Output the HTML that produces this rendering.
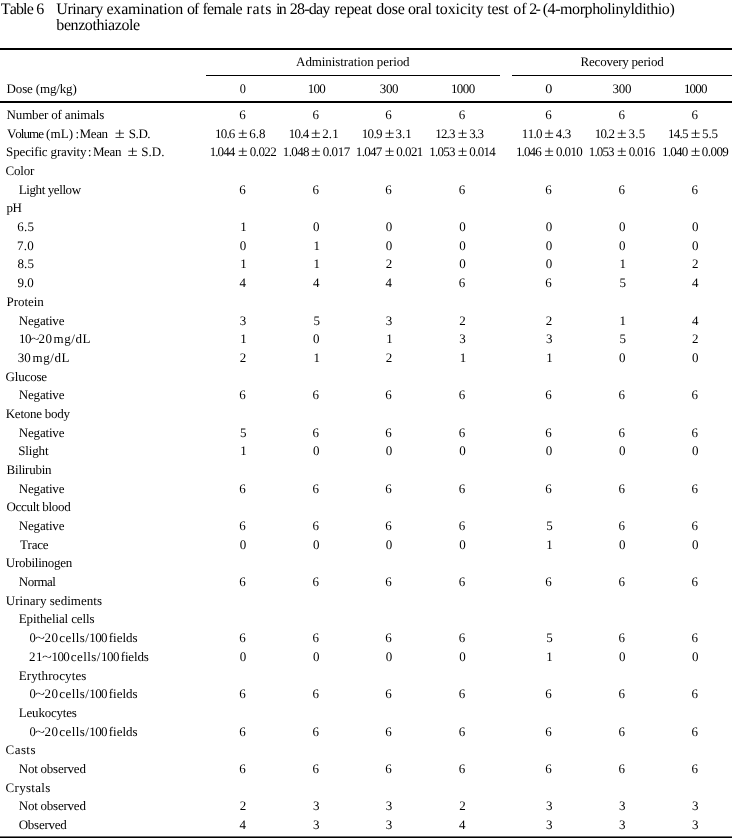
<!DOCTYPE html>
<html><head><meta charset="utf-8"><title>Table 6</title>
<style>
html,body{margin:0;padding:0;background:#fff;}
body{width:732px;height:839px;overflow:hidden;}
svg{display:block;will-change:transform;}
text{font-family:"Liberation Serif",serif;fill:#000;text-rendering:geometricPrecision;font-kerning:none;font-variant-ligatures:none;}
</style></head><body>
<svg width="732" height="839" viewBox="0 0 732 839">
<rect x="0" y="0" width="732" height="839" fill="#fff"/>
<rect x="0" y="48" width="732" height="2" fill="#000"/>
<rect x="206" y="75" width="294" height="1" fill="#000"/>
<rect x="512" y="75" width="220" height="1" fill="#000"/>
<rect x="0" y="101" width="732" height="2" fill="#000"/>
<rect x="0" y="836.45" width="732" height="1.55" fill="#000"/>
<text x="0.70" y="14.00" font-size="16.0" textLength="43.52">Table 6</text>
<text x="56.30" y="14.00" font-size="16.0" textLength="47.06">Urinary</text>
<text x="106.50" y="14.00" font-size="16.0" textLength="76.79">examination</text>
<text x="186.90" y="14.00" font-size="16.0" textLength="12.43">of</text>
<text x="202.50" y="14.00" font-size="16.0" textLength="40.02">female</text>
<text x="246.60" y="14.00" font-size="16.0" textLength="25.00">rats</text>
<text x="275.90" y="14.00" font-size="16.0" textLength="10.75">in</text>
<text x="289.80" y="14.00" font-size="16.0" textLength="40.43">28-day</text>
<text x="334.60" y="14.00" font-size="16.0" textLength="37.58">repeat</text>
<text x="376.20" y="14.00" font-size="16.0" textLength="28.63">dose</text>
<text x="407.90" y="14.00" font-size="16.0" textLength="23.98">oral</text>
<text x="435.40" y="14.00" font-size="16.0" textLength="48.18">toxicity</text>
<text x="487.20" y="14.00" font-size="16.0" textLength="21.42">test</text>
<text x="513.30" y="14.00" font-size="16.0" textLength="13.33">of</text>
<text x="529.20" y="14.00" font-size="16.0" textLength="11.63">2-</text>
<text x="542.70" y="14.00" font-size="16.0" textLength="132.03">(4-morpholinyldithio)</text>
<text x="56.30" y="30.00" font-size="16.0" textLength="83.84">benzothiazole</text>
<text x="296.10" y="66.20" font-size="13.0" textLength="113.48">Administration period</text>
<text x="580.60" y="66.20" font-size="13.0" textLength="83.07">Recovery period</text>
<text x="6.60" y="93.00" font-size="13.0" textLength="70.15">Dose (mg/kg)</text>
<text x="239.73" y="93.00" font-size="13.0" textLength="6.15" lengthAdjust="spacingAndGlyphs">0</text>
<text x="307.80" y="93.00" font-size="13.0" textLength="18.00">100</text>
<text x="379.70" y="93.00" font-size="13.0" textLength="18.90">300</text>
<text x="450.90" y="93.00" font-size="13.0" textLength="24.40">1000</text>
<text x="545.15" y="93.00" font-size="13.0" textLength="7.09" lengthAdjust="spacingAndGlyphs">0</text>
<text x="612.50" y="93.00" font-size="13.0" textLength="18.90">300</text>
<text x="683.90" y="93.00" font-size="13.0" textLength="23.50">1000</text>
<text x="6.60" y="119.00" font-size="13.0" textLength="97.66">Number of animals</text>
<text x="239.15" y="119.00" font-size="13.0">6</text>
<text x="312.45" y="119.00" font-size="13.0">6</text>
<text x="385.15" y="119.00" font-size="13.0">6</text>
<text x="458.65" y="119.00" font-size="13.0">6</text>
<text x="545.25" y="119.00" font-size="13.0">6</text>
<text x="618.45" y="119.00" font-size="13.0">6</text>
<text x="691.45" y="119.00" font-size="13.0">6</text>
<text x="6.90" y="137.68" font-size="13.0" textLength="37.08">Volume</text>
<text x="45.90" y="137.68" font-size="13.0" textLength="27.21">(mL)</text>
<text x="75.60" y="137.68" font-size="13.0" textLength="3.61" lengthAdjust="spacingAndGlyphs">:</text>
<text x="79.60" y="137.68" font-size="13.0" textLength="28.40">Mean</text>
<text x="114.65" y="137.68" font-size="14.5" textLength="9.98" lengthAdjust="spacingAndGlyphs">±</text>
<text x="128.70" y="137.68" font-size="13.0" textLength="21.92">S.D.</text>
<text x="215.00" y="137.68" font-size="13.0" textLength="20.35">10.6</text>
<text x="237.97" y="137.68" font-size="14.5" textLength="9.62" lengthAdjust="spacingAndGlyphs">±</text>
<text x="249.20" y="137.68" font-size="13.0" textLength="16.35">6.8</text>
<text x="288.70" y="137.68" font-size="13.0" textLength="20.55">10.4</text>
<text x="310.97" y="137.68" font-size="14.5" textLength="9.62" lengthAdjust="spacingAndGlyphs">±</text>
<text x="322.20" y="137.68" font-size="13.0" textLength="16.55">2.1</text>
<text x="361.70" y="137.68" font-size="13.0" textLength="20.85">10.9</text>
<text x="384.67" y="137.68" font-size="14.5" textLength="9.62" lengthAdjust="spacingAndGlyphs">±</text>
<text x="395.60" y="137.68" font-size="13.0" textLength="16.15">3.1</text>
<text x="435.20" y="137.68" font-size="13.0" textLength="20.35">12.3</text>
<text x="457.67" y="137.68" font-size="14.5" textLength="9.62" lengthAdjust="spacingAndGlyphs">±</text>
<text x="469.20" y="137.68" font-size="13.0" textLength="14.85">3.3</text>
<text x="521.80" y="137.68" font-size="13.0" textLength="20.75">11.0</text>
<text x="544.17" y="137.68" font-size="14.5" textLength="9.62" lengthAdjust="spacingAndGlyphs">±</text>
<text x="555.70" y="137.68" font-size="13.0" textLength="15.65">4.3</text>
<text x="594.70" y="137.68" font-size="13.0" textLength="20.35">10.2</text>
<text x="616.97" y="137.68" font-size="14.5" textLength="9.62" lengthAdjust="spacingAndGlyphs">±</text>
<text x="628.50" y="137.68" font-size="13.0" textLength="16.85">3.5</text>
<text x="667.90" y="137.68" font-size="13.0" textLength="20.65">14.5</text>
<text x="690.87" y="137.68" font-size="14.5" textLength="9.62" lengthAdjust="spacingAndGlyphs">±</text>
<text x="702.00" y="137.68" font-size="13.0" textLength="16.05">5.5</text>
<text x="6.10" y="156.37" font-size="13.0" textLength="80.37">Specific gravity</text>
<text x="87.84" y="156.37" font-size="13.0" textLength="3.84" lengthAdjust="spacingAndGlyphs">:</text>
<text x="92.90" y="156.37" font-size="13.0" textLength="28.50">Mean</text>
<text x="127.63" y="156.37" font-size="14.5" textLength="10.22" lengthAdjust="spacingAndGlyphs">±</text>
<text x="141.20" y="156.37" font-size="13.0" textLength="23.32">S.D.</text>
<text x="209.70" y="156.37" font-size="13.0" textLength="25.55">1.044</text>
<text x="237.97" y="156.37" font-size="14.5" textLength="9.62" lengthAdjust="spacingAndGlyphs">±</text>
<text x="249.80" y="156.37" font-size="13.0" textLength="26.95">0.022</text>
<text x="282.80" y="156.37" font-size="13.0" textLength="26.75">1.048</text>
<text x="310.97" y="156.37" font-size="14.5" textLength="9.62" lengthAdjust="spacingAndGlyphs">±</text>
<text x="322.80" y="156.37" font-size="13.0" textLength="27.35">0.017</text>
<text x="355.80" y="156.37" font-size="13.0" textLength="26.55">1.047</text>
<text x="384.67" y="156.37" font-size="14.5" textLength="9.62" lengthAdjust="spacingAndGlyphs">±</text>
<text x="396.20" y="156.37" font-size="13.0" textLength="27.15">0.021</text>
<text x="429.30" y="156.37" font-size="13.0" textLength="26.25">1.053</text>
<text x="457.67" y="156.37" font-size="14.5" textLength="9.62" lengthAdjust="spacingAndGlyphs">±</text>
<text x="469.30" y="156.37" font-size="13.0" textLength="26.55">0.014</text>
<text x="516.00" y="156.37" font-size="13.0" textLength="25.65">1.046</text>
<text x="544.17" y="156.37" font-size="14.5" textLength="9.62" lengthAdjust="spacingAndGlyphs">±</text>
<text x="556.00" y="156.37" font-size="13.0" textLength="26.75">0.010</text>
<text x="588.80" y="156.37" font-size="13.0" textLength="25.75">1.053</text>
<text x="616.97" y="156.37" font-size="14.5" textLength="9.62" lengthAdjust="spacingAndGlyphs">±</text>
<text x="628.80" y="156.37" font-size="13.0" textLength="26.35">0.016</text>
<text x="661.90" y="156.37" font-size="13.0" textLength="26.25">1.040</text>
<text x="690.87" y="156.37" font-size="14.5" textLength="9.62" lengthAdjust="spacingAndGlyphs">±</text>
<text x="701.80" y="156.37" font-size="13.0" textLength="27.05">0.009</text>
<text x="5.50" y="175.05" font-size="13.0" textLength="28.81">Color</text>
<text x="18.70" y="193.74" font-size="13.0" textLength="62.40">Light yellow</text>
<text x="239.15" y="193.74" font-size="13.0">6</text>
<text x="312.45" y="193.74" font-size="13.0">6</text>
<text x="385.15" y="193.74" font-size="13.0">6</text>
<text x="458.65" y="193.74" font-size="13.0">6</text>
<text x="545.25" y="193.74" font-size="13.0">6</text>
<text x="618.45" y="193.74" font-size="13.0">6</text>
<text x="691.45" y="193.74" font-size="13.0">6</text>
<text x="6.40" y="212.42" font-size="13.0" textLength="15.39">pH</text>
<text x="17.30" y="231.10" font-size="13.0" textLength="16.65">6.5</text>
<text x="240.20" y="231.10" font-size="13.0">1</text>
<text x="313.05" y="231.10" font-size="13.0">0</text>
<text x="385.75" y="231.10" font-size="13.0">0</text>
<text x="459.25" y="231.10" font-size="13.0">0</text>
<text x="545.85" y="231.10" font-size="13.0">0</text>
<text x="619.05" y="231.10" font-size="13.0">0</text>
<text x="692.05" y="231.10" font-size="13.0">0</text>
<text x="17.00" y="249.79" font-size="13.0" textLength="16.85">7.0</text>
<text x="239.75" y="249.79" font-size="13.0">0</text>
<text x="313.50" y="249.79" font-size="13.0">1</text>
<text x="385.75" y="249.79" font-size="13.0">0</text>
<text x="459.25" y="249.79" font-size="13.0">0</text>
<text x="545.85" y="249.79" font-size="13.0">0</text>
<text x="619.05" y="249.79" font-size="13.0">0</text>
<text x="692.05" y="249.79" font-size="13.0">0</text>
<text x="17.40" y="268.47" font-size="13.0" textLength="16.55">8.5</text>
<text x="240.20" y="268.47" font-size="13.0">1</text>
<text x="313.50" y="268.47" font-size="13.0">1</text>
<text x="385.70" y="268.47" font-size="13.0">2</text>
<text x="459.25" y="268.47" font-size="13.0">0</text>
<text x="545.85" y="268.47" font-size="13.0">0</text>
<text x="619.50" y="268.47" font-size="13.0">1</text>
<text x="692.00" y="268.47" font-size="13.0">2</text>
<text x="17.50" y="287.16" font-size="13.0" textLength="16.35">9.0</text>
<text x="239.60" y="287.16" font-size="13.0">4</text>
<text x="312.90" y="287.16" font-size="13.0">4</text>
<text x="385.60" y="287.16" font-size="13.0">4</text>
<text x="458.65" y="287.16" font-size="13.0">6</text>
<text x="545.25" y="287.16" font-size="13.0">6</text>
<text x="619.40" y="287.16" font-size="13.0">5</text>
<text x="691.90" y="287.16" font-size="13.0">4</text>
<text x="6.60" y="305.84" font-size="13.0" textLength="37.25">Protein</text>
<text x="18.80" y="324.52" font-size="13.0" textLength="45.62">Negative</text>
<text x="239.80" y="324.52" font-size="13.0">3</text>
<text x="313.40" y="324.52" font-size="13.0">5</text>
<text x="385.80" y="324.52" font-size="13.0">3</text>
<text x="459.20" y="324.52" font-size="13.0">2</text>
<text x="545.80" y="324.52" font-size="13.0">2</text>
<text x="619.50" y="324.52" font-size="13.0">1</text>
<text x="691.90" y="324.52" font-size="13.0">4</text>
<text x="19.10" y="343.21" font-size="13.0" textLength="12.30">10</text>
<text x="30.71" y="343.21" font-size="13.0" textLength="8.62" lengthAdjust="spacingAndGlyphs">~</text>
<text x="38.60" y="343.21" font-size="13.0" textLength="13.30">20</text>
<text x="53.60" y="343.21" font-size="13.0" textLength="36.97">mg/dL</text>
<text x="240.20" y="343.21" font-size="13.0">1</text>
<text x="313.05" y="343.21" font-size="13.0">0</text>
<text x="386.20" y="343.21" font-size="13.0">1</text>
<text x="459.30" y="343.21" font-size="13.0">3</text>
<text x="545.90" y="343.21" font-size="13.0">3</text>
<text x="619.40" y="343.21" font-size="13.0">5</text>
<text x="692.00" y="343.21" font-size="13.0">2</text>
<text x="17.80" y="361.89" font-size="13.0" textLength="12.90">30</text>
<text x="32.50" y="361.89" font-size="13.0" textLength="36.87">mg/dL</text>
<text x="239.70" y="361.89" font-size="13.0">2</text>
<text x="313.50" y="361.89" font-size="13.0">1</text>
<text x="385.70" y="361.89" font-size="13.0">2</text>
<text x="459.70" y="361.89" font-size="13.0">1</text>
<text x="546.30" y="361.89" font-size="13.0">1</text>
<text x="619.05" y="361.89" font-size="13.0">0</text>
<text x="692.05" y="361.89" font-size="13.0">0</text>
<text x="5.60" y="380.58" font-size="13.0" textLength="41.50">Glucose</text>
<text x="18.80" y="399.26" font-size="13.0" textLength="45.62">Negative</text>
<text x="239.15" y="399.26" font-size="13.0">6</text>
<text x="312.45" y="399.26" font-size="13.0">6</text>
<text x="385.15" y="399.26" font-size="13.0">6</text>
<text x="458.65" y="399.26" font-size="13.0">6</text>
<text x="545.25" y="399.26" font-size="13.0">6</text>
<text x="618.45" y="399.26" font-size="13.0">6</text>
<text x="691.45" y="399.26" font-size="13.0">6</text>
<text x="5.70" y="417.94" font-size="13.0" textLength="64.39">Ketone body</text>
<text x="18.80" y="436.63" font-size="13.0" textLength="45.62">Negative</text>
<text x="240.10" y="436.63" font-size="13.0">5</text>
<text x="312.45" y="436.63" font-size="13.0">6</text>
<text x="385.15" y="436.63" font-size="13.0">6</text>
<text x="458.65" y="436.63" font-size="13.0">6</text>
<text x="545.25" y="436.63" font-size="13.0">6</text>
<text x="618.45" y="436.63" font-size="13.0">6</text>
<text x="691.45" y="436.63" font-size="13.0">6</text>
<text x="18.30" y="455.31" font-size="13.0" textLength="30.27">Slight</text>
<text x="240.20" y="455.31" font-size="13.0">1</text>
<text x="313.05" y="455.31" font-size="13.0">0</text>
<text x="385.75" y="455.31" font-size="13.0">0</text>
<text x="459.25" y="455.31" font-size="13.0">0</text>
<text x="545.85" y="455.31" font-size="13.0">0</text>
<text x="619.05" y="455.31" font-size="13.0">0</text>
<text x="692.05" y="455.31" font-size="13.0">0</text>
<text x="6.60" y="474.00" font-size="13.0" textLength="44.95">Bilirubin</text>
<text x="18.80" y="492.68" font-size="13.0" textLength="45.62">Negative</text>
<text x="239.15" y="492.68" font-size="13.0">6</text>
<text x="312.45" y="492.68" font-size="13.0">6</text>
<text x="385.15" y="492.68" font-size="13.0">6</text>
<text x="458.65" y="492.68" font-size="13.0">6</text>
<text x="545.25" y="492.68" font-size="13.0">6</text>
<text x="618.45" y="492.68" font-size="13.0">6</text>
<text x="691.45" y="492.68" font-size="13.0">6</text>
<text x="6.50" y="511.36" font-size="13.0" textLength="64.21">Occult blood</text>
<text x="18.80" y="530.05" font-size="13.0" textLength="45.62">Negative</text>
<text x="239.15" y="530.05" font-size="13.0">6</text>
<text x="312.45" y="530.05" font-size="13.0">6</text>
<text x="385.15" y="530.05" font-size="13.0">6</text>
<text x="458.65" y="530.05" font-size="13.0">6</text>
<text x="546.20" y="530.05" font-size="13.0">5</text>
<text x="618.45" y="530.05" font-size="13.0">6</text>
<text x="691.45" y="530.05" font-size="13.0">6</text>
<text x="19.90" y="548.73" font-size="13.0" textLength="28.68">Trace</text>
<text x="239.75" y="548.73" font-size="13.0">0</text>
<text x="313.05" y="548.73" font-size="13.0">0</text>
<text x="385.75" y="548.73" font-size="13.0">0</text>
<text x="459.25" y="548.73" font-size="13.0">0</text>
<text x="546.30" y="548.73" font-size="13.0">1</text>
<text x="619.05" y="548.73" font-size="13.0">0</text>
<text x="692.05" y="548.73" font-size="13.0">0</text>
<text x="5.80" y="567.42" font-size="13.0" textLength="66.52">Urobilinogen</text>
<text x="18.80" y="586.10" font-size="13.0" textLength="37.11">Normal</text>
<text x="239.15" y="586.10" font-size="13.0">6</text>
<text x="312.45" y="586.10" font-size="13.0">6</text>
<text x="385.15" y="586.10" font-size="13.0">6</text>
<text x="458.65" y="586.10" font-size="13.0">6</text>
<text x="545.25" y="586.10" font-size="13.0">6</text>
<text x="618.45" y="586.10" font-size="13.0">6</text>
<text x="691.45" y="586.10" font-size="13.0">6</text>
<text x="5.80" y="604.78" font-size="13.0" textLength="96.27">Urinary sediments</text>
<text x="18.80" y="623.47" font-size="13.0" textLength="75.71">Epithelial cells</text>
<text x="29.42" y="642.15" font-size="13.0" textLength="6.26" lengthAdjust="spacingAndGlyphs">0</text>
<text x="35.03" y="642.15" font-size="13.0" textLength="9.98" lengthAdjust="spacingAndGlyphs">~</text>
<text x="44.40" y="642.15" font-size="13.0" textLength="13.60">20</text>
<text x="59.20" y="642.15" font-size="13.0" textLength="29.74">cells/</text>
<text x="89.30" y="642.15" font-size="13.0" textLength="18.20">100</text>
<text x="108.80" y="642.15" font-size="13.0" textLength="28.78">fields</text>
<text x="239.15" y="642.15" font-size="13.0">6</text>
<text x="312.45" y="642.15" font-size="13.0">6</text>
<text x="385.15" y="642.15" font-size="13.0">6</text>
<text x="458.65" y="642.15" font-size="13.0">6</text>
<text x="546.20" y="642.15" font-size="13.0">5</text>
<text x="618.45" y="642.15" font-size="13.0">6</text>
<text x="691.45" y="642.15" font-size="13.0">6</text>
<text x="29.10" y="660.84" font-size="13.0" textLength="13.40">21</text>
<text x="42.04" y="660.84" font-size="13.0" textLength="9.87" lengthAdjust="spacingAndGlyphs">~</text>
<text x="51.60" y="660.84" font-size="13.0" textLength="18.20">100</text>
<text x="70.70" y="660.84" font-size="13.0" textLength="29.74">cells/</text>
<text x="101.10" y="660.84" font-size="13.0" textLength="18.40">100</text>
<text x="120.70" y="660.84" font-size="13.0" textLength="28.18">fields</text>
<text x="239.75" y="660.84" font-size="13.0">0</text>
<text x="313.05" y="660.84" font-size="13.0">0</text>
<text x="385.75" y="660.84" font-size="13.0">0</text>
<text x="459.25" y="660.84" font-size="13.0">0</text>
<text x="546.30" y="660.84" font-size="13.0">1</text>
<text x="619.05" y="660.84" font-size="13.0">0</text>
<text x="692.05" y="660.84" font-size="13.0">0</text>
<text x="18.80" y="679.52" font-size="13.0" textLength="67.52">Erythrocytes</text>
<text x="29.42" y="698.20" font-size="13.0" textLength="6.26" lengthAdjust="spacingAndGlyphs">0</text>
<text x="35.03" y="698.20" font-size="13.0" textLength="9.98" lengthAdjust="spacingAndGlyphs">~</text>
<text x="44.40" y="698.20" font-size="13.0" textLength="13.60">20</text>
<text x="59.20" y="698.20" font-size="13.0" textLength="29.74">cells/</text>
<text x="89.30" y="698.20" font-size="13.0" textLength="18.20">100</text>
<text x="108.80" y="698.20" font-size="13.0" textLength="28.78">fields</text>
<text x="239.15" y="698.20" font-size="13.0">6</text>
<text x="312.45" y="698.20" font-size="13.0">6</text>
<text x="385.15" y="698.20" font-size="13.0">6</text>
<text x="458.65" y="698.20" font-size="13.0">6</text>
<text x="545.25" y="698.20" font-size="13.0">6</text>
<text x="618.45" y="698.20" font-size="13.0">6</text>
<text x="691.45" y="698.20" font-size="13.0">6</text>
<text x="18.80" y="716.89" font-size="13.0" textLength="58.12">Leukocytes</text>
<text x="29.42" y="735.57" font-size="13.0" textLength="6.26" lengthAdjust="spacingAndGlyphs">0</text>
<text x="35.03" y="735.57" font-size="13.0" textLength="9.98" lengthAdjust="spacingAndGlyphs">~</text>
<text x="44.40" y="735.57" font-size="13.0" textLength="13.60">20</text>
<text x="59.20" y="735.57" font-size="13.0" textLength="29.74">cells/</text>
<text x="89.30" y="735.57" font-size="13.0" textLength="18.20">100</text>
<text x="108.80" y="735.57" font-size="13.0" textLength="28.78">fields</text>
<text x="239.15" y="735.57" font-size="13.0">6</text>
<text x="312.45" y="735.57" font-size="13.0">6</text>
<text x="385.15" y="735.57" font-size="13.0">6</text>
<text x="458.65" y="735.57" font-size="13.0">6</text>
<text x="545.25" y="735.57" font-size="13.0">6</text>
<text x="618.45" y="735.57" font-size="13.0">6</text>
<text x="691.45" y="735.57" font-size="13.0">6</text>
<text x="5.60" y="754.26" font-size="13.0" textLength="29.87">Casts</text>
<text x="18.80" y="772.94" font-size="13.0" textLength="67.08">Not observed</text>
<text x="239.15" y="772.94" font-size="13.0">6</text>
<text x="312.45" y="772.94" font-size="13.0">6</text>
<text x="385.15" y="772.94" font-size="13.0">6</text>
<text x="458.65" y="772.94" font-size="13.0">6</text>
<text x="545.25" y="772.94" font-size="13.0">6</text>
<text x="618.45" y="772.94" font-size="13.0">6</text>
<text x="691.45" y="772.94" font-size="13.0">6</text>
<text x="5.60" y="791.62" font-size="13.0" textLength="44.71">Crystals</text>
<text x="18.80" y="810.31" font-size="13.0" textLength="67.08">Not observed</text>
<text x="239.70" y="810.31" font-size="13.0">2</text>
<text x="313.10" y="810.31" font-size="13.0">3</text>
<text x="385.80" y="810.31" font-size="13.0">3</text>
<text x="459.20" y="810.31" font-size="13.0">2</text>
<text x="545.90" y="810.31" font-size="13.0">3</text>
<text x="619.10" y="810.31" font-size="13.0">3</text>
<text x="692.10" y="810.31" font-size="13.0">3</text>
<text x="18.70" y="828.99" font-size="13.0" textLength="48.12">Observed</text>
<text x="239.60" y="828.99" font-size="13.0">4</text>
<text x="313.10" y="828.99" font-size="13.0">3</text>
<text x="385.80" y="828.99" font-size="13.0">3</text>
<text x="459.10" y="828.99" font-size="13.0">4</text>
<text x="545.90" y="828.99" font-size="13.0">3</text>
<text x="619.10" y="828.99" font-size="13.0">3</text>
<text x="692.10" y="828.99" font-size="13.0">3</text>
</svg>
</body></html>
